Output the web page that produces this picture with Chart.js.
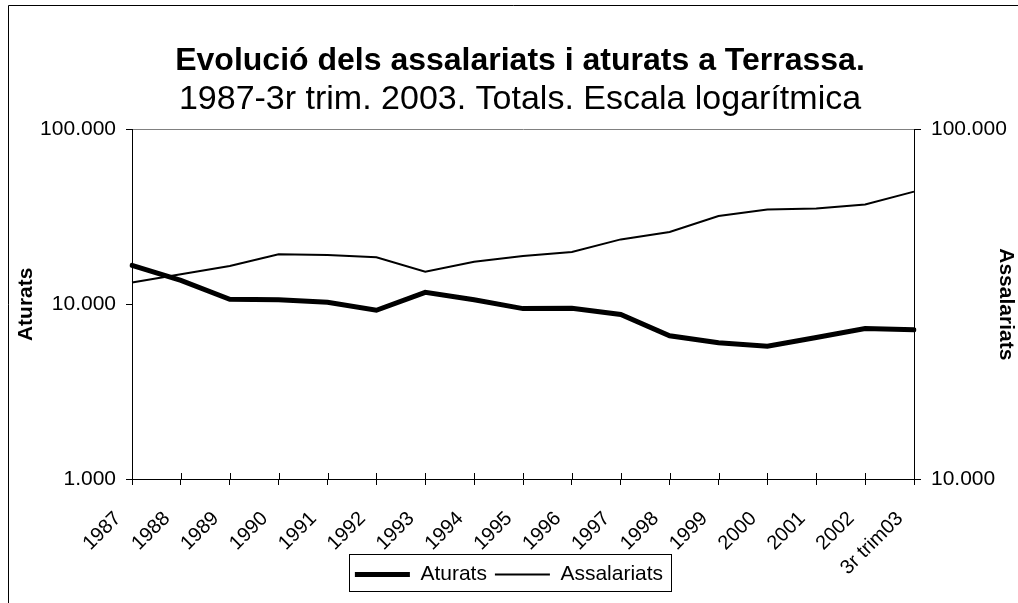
<!DOCTYPE html>
<html>
<head>
<meta charset="utf-8">
<script src="https://cdn.jsdelivr.net/npm/chart.js@4/dist/chart.umd.min.js"></script>
<style>
  html, body { margin: 0; padding: 0; background: #fff; }
  #wrap { width: 1018px; height: 603px; }
</style>
</head>
<body>
<div id="wrap"><canvas id="myChart" width="1018" height="603"></canvas></div>
<script>
var years = ['1987', '1988', '1989', '1990', '1991', '1992', '1993', '1994', '1995',
             '1996', '1997', '1998', '1999', '2000', '2001', '2002', '3r trim03'];
var aturats = [16700, 13700, 10680, 10620, 10260, 9240, 11700, 10620, 9450,
               9480, 8740, 6600, 6020, 5760, 6460, 7270, 7140];
var assalariats = [36500, 38550, 40700, 43950, 43750, 43100, 39220, 41880, 43470,
                   44630, 48500, 50900, 56600, 59050, 59430, 61040, 66450];
var leftTicks = [1000, 10000, 100000];
var leftTickLabels = ['1.000', '10.000', '100.000'];
var rightTicks = [10000, 100000];
var rightTickLabels = ['10.000', '100.000'];

Chart.defaults.font.family = '"Liberation Sans", Arial, sans-serif';
Chart.defaults.color = '#000';

// outer frame, legend box and the inner half of the x ticks
var framePlugin = {
    id: 'frame',
    afterLayout: function(chart) {
        // let the rotated year labels run below the axis box
        chart.scales.x.bottom = chart.height;
        // titles sit a little right of the canvas centre
        chart.boxes.forEach(function(b) {
            if (b.options && b.options.position === 'top' && typeof b.options.text === 'string') {
                b.left += 22;
            }
        });
    },
    beforeDraw: function(chart) {
        var c = chart.ctx;
        c.save();
        c.fillStyle = '#fff';
        c.fillRect(0, 0, chart.width, chart.height);
        c.strokeStyle = '#000';
        c.lineWidth = 1;
        c.beginPath();
        c.moveTo(8.5, chart.height);
        c.lineTo(8.5, 5.5);
        c.lineTo(chart.width, 5.5);
        c.stroke();
        c.restore();
    },
    afterDraw: function(chart) {
        var c = chart.ctx;
        var x = chart.scales.x;
        c.save();
        c.strokeStyle = '#000';
        c.lineWidth = 1;
        c.beginPath();
        for (var i = 0; i < x.ticks.length; i++) {
            var px = Math.round(x.getPixelForTick(i)) + 0.5;
            c.moveTo(px, x.top - 6);
            c.lineTo(px, x.top);
        }
        c.stroke();
        var boxes = chart.legend.legendHitBoxes;
        if (boxes && boxes.length) {
            var l = boxes[0].left, r = boxes[0].left + boxes[0].width;
            var t = boxes[0].top, b = boxes[0].top + boxes[0].height;
            boxes.forEach(function(h) {
                l = Math.min(l, h.left);
                r = Math.max(r, h.left + h.width);
            });
            c.strokeRect(Math.round(l - 6) + 0.5, Math.round(t - 10) + 0.5,
                         Math.round(r - l + 14), Math.round(b - t + 16));
        }
        c.restore();
    }
};

var ctx = document.getElementById('myChart').getContext('2d');
var myChart = new Chart(ctx, {
    type: 'line',
    data: {
        labels: years,
        datasets: [{
            label: 'Aturats',
            data: aturats,
            yAxisID: 'y',
            borderColor: '#000',
            backgroundColor: '#000',
            borderWidth: 5,
            borderCapStyle: 'round',
            pointRadius: 0,
            tension: 0
        }, {
            label: 'Assalariats',
            data: assalariats,
            yAxisID: 'y1',
            borderColor: '#000',
            backgroundColor: '#000',
            borderWidth: 2,
            pointRadius: 0,
            tension: 0
        }]
    },
    options: {
        responsive: false,
        animation: false,
        layout: { padding: { left: 0, right: 0, top: 0, bottom: 8 } },
        plugins: {
            title: {
                display: true,
                text: 'Evolució dels assalariats i aturats a Terrassa.',
                font: { size: 32, weight: 'bold', lineHeight: 1.1 },
                color: '#000',
                padding: { top: 44, bottom: 0 }
            },
            subtitle: {
                display: true,
                text: '1987-3r trim. 2003. Totals. Escala logarítmica',
                font: { size: 34, weight: 'normal', lineHeight: 1.1 },
                color: '#000',
                padding: { top: 2, bottom: 11 }
            },
            legend: {
                display: true,
                position: 'bottom',
                labels: {
                    color: '#000',
                    font: { size: 21 },
                    usePointStyle: true,
                    pointStyleWidth: 55,
                    pointStyle: 'line',
                    boxHeight: 21,
                    padding: 8
                }
            },
            tooltip: { enabled: false }
        },
        scales: {
            x: {
                type: 'category',
                offset: false,
                grid: { drawOnChartArea: false, tickLength: 6, color: '#000', offset: false },
                border: { color: '#000', width: 1 },
                ticks: {
                    autoSkip: false,
                    maxRotation: 45,
                    minRotation: 45,
                    padding: 22,
                    labelOffset: -14,
                    font: { size: 20 },
                    color: '#000'
                },
                afterFit: function(scale) { scale.height = 77; }
            },
            y: {
                type: 'logarithmic',
                position: 'left',
                min: 1000,
                max: 100000,
                afterBuildTicks: function(scale) {
                    scale.ticks = leftTicks.map(function(v) { return { value: v }; });
                },
                ticks: {
                    padding: 10,
                    font: { size: 21 },
                    color: '#000',
                    callback: function(value) { return leftTickLabels[leftTicks.indexOf(value)]; }
                },
                grid: {
                    tickLength: 6,
                    tickColor: '#000',
                    color: function(c) { return c.tick && c.tick.value === 100000 ? '#808080' : 'rgba(0,0,0,0)'; }
                },
                border: { color: '#000', width: 1 },
                title: {
                    display: true,
                    text: 'Aturats',
                    font: { size: 21, weight: 'bold' },
                    color: '#000',
                    padding: { top: 14, bottom: 0 }
                },
                afterFit: function(scale) { scale.width = 132; }
            },
            y1: {
                type: 'logarithmic',
                position: 'right',
                min: 10000,
                max: 100000,
                afterBuildTicks: function(scale) {
                    scale.ticks = rightTicks.map(function(v) { return { value: v }; });
                },
                ticks: {
                    padding: 10,
                    font: { size: 21 },
                    color: '#000',
                    callback: function(value) { return rightTickLabels[rightTicks.indexOf(value)]; }
                },
                grid: { drawOnChartArea: false, tickLength: 7, tickColor: '#000' },
                border: { color: '#000', width: 1 },
                title: {
                    display: true,
                    text: 'Assalariats',
                    font: { size: 21, weight: 'bold' },
                    color: '#000',
                    padding: { top: 0, bottom: 0 }
                },
                afterFit: function(scale) { scale.width = 104; }
            }
        }
    },
    plugins: [framePlugin]
});
</script>
</body>
</html>
